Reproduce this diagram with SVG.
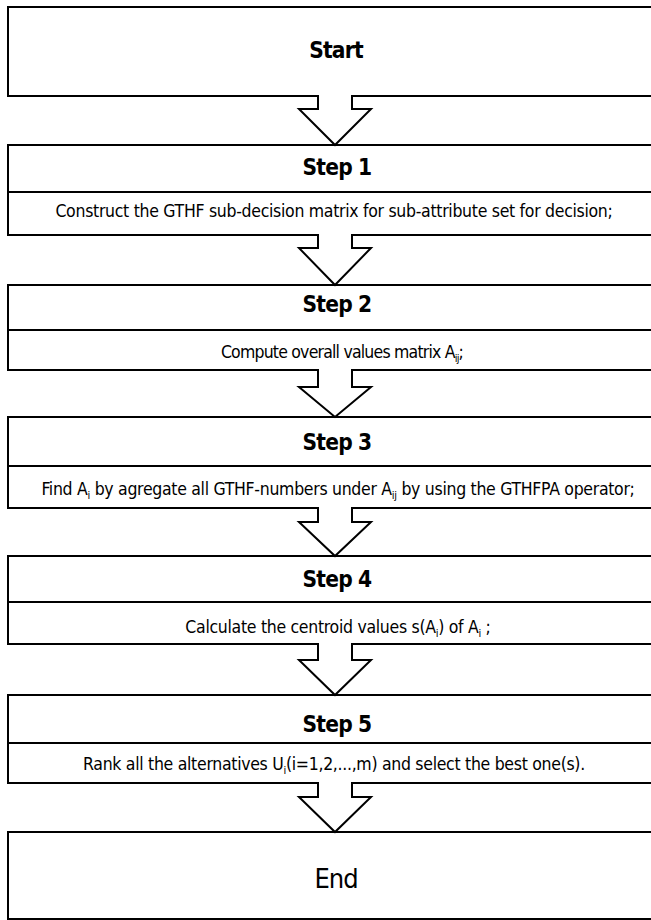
<svg xmlns="http://www.w3.org/2000/svg" width="651" height="920" viewBox="0 0 651 920">
<style>
.box{fill:#fff;stroke:#000;stroke-width:2}
.div{stroke:#000;stroke-width:2}
.arrow{fill:#fff;stroke:#000;stroke-width:2;stroke-linejoin:miter}
.h{font-family:"DejaVu Sans Condensed","DejaVu Sans",sans-serif;font-weight:bold;font-size:22.5px;letter-spacing:-0.8px;text-anchor:middle;fill:#000}
.b{font-family:"DejaVu Sans Condensed","DejaVu Sans",sans-serif;font-size:17.5px;letter-spacing:-0.3px;text-anchor:middle;fill:#000}
.e{font-family:"DejaVu Sans Condensed","DejaVu Sans",sans-serif;font-size:27px;letter-spacing:-1px;text-anchor:middle;fill:#000}
.s{font-size:11px}
</style>
<g id="start">
<rect class="box" x="8" y="7" width="700" height="89"/>
<text class="h" x="336" y="58">Start</text>
</g>
<g id="step1">
<rect class="box" x="8" y="145" width="700" height="90"/>
<line class="div" x1="8" y1="192" x2="708" y2="192"/>
<text class="h" x="337" y="175">Step 1</text>
<text class="b" x="334" y="217">Construct the GTHF sub-decision matrix for sub-attribute set for decision;</text>
</g>
<g id="step2">
<rect class="box" x="8" y="285" width="700" height="85"/>
<line class="div" x1="8" y1="330" x2="708" y2="330"/>
<text class="h" x="337" y="312">Step 2</text>
<text class="b" x="342" y="358" style="letter-spacing:-0.8px">Compute overall values matrix A<tspan class="s" dy="4">ij</tspan><tspan dy="-4">;</tspan></text>
</g>
<g id="step3">
<rect class="box" x="8" y="417" width="700" height="91"/>
<line class="div" x1="8" y1="466" x2="708" y2="466"/>
<text class="h" x="337" y="450">Step 3</text>
<text class="b" x="338" y="495">Find A<tspan class="s" dy="4">i</tspan><tspan dy="-4"> by agregate all GTHF-numbers under A</tspan><tspan class="s" dy="4">ij</tspan><tspan dy="-4"> by using the GTHFPA operator;</tspan></text>
</g>
<g id="step4">
<rect class="box" x="8" y="556" width="700" height="88"/>
<line class="div" x1="8" y1="602" x2="708" y2="602"/>
<text class="h" x="337" y="587">Step 4</text>
<text class="b" x="338" y="633">Calculate the centroid values s(A<tspan class="s" dy="4">i</tspan><tspan dy="-4">) of A</tspan><tspan class="s" dy="4">i</tspan><tspan dy="-4"> ;</tspan></text>
</g>
<g id="step5">
<rect class="box" x="8" y="695" width="700" height="88"/>
<line class="div" x1="8" y1="743" x2="708" y2="743"/>
<text class="h" x="337" y="732">Step 5</text>
<text class="b" x="334" y="770">Rank all the alternatives U<tspan class="s" dy="4">i</tspan><tspan dy="-4">(i=1,2,...,m) and select the best one(s).</tspan></text>
</g>
<g id="end">
<rect class="box" x="8" y="832" width="700" height="87"/>
<text class="e" x="336" y="888">End</text>
</g>
<g id="connectors">
<path class="arrow" d="M318,95 V109 H299 L335,145 L371,109 H352 V95"/>
<path class="arrow" d="M318,234 V248 H299 L335,285 L371,248 H352 V234"/>
<path class="arrow" d="M318,369 V387 H299 L335,417 L371,387 H352 V369"/>
<path class="arrow" d="M318,507 V522 H299 L335,556 L371,522 H352 V507"/>
<path class="arrow" d="M318,643 V660 H299 L335,695 L371,660 H352 V643"/>
<path class="arrow" d="M318,782 V797 H299 L335,832 L371,797 H352 V782"/>
</g>
</svg>
